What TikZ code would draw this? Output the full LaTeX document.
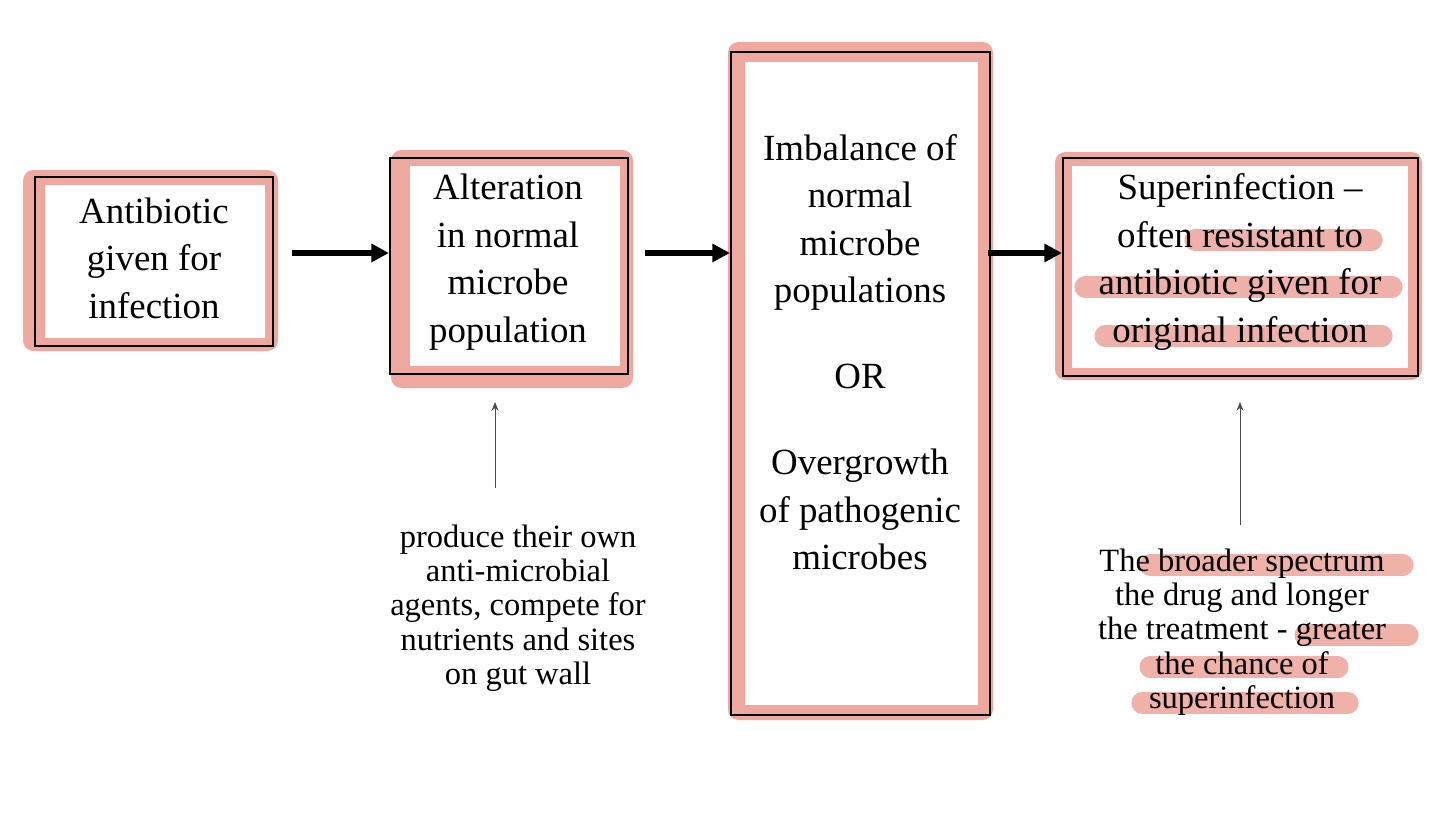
\documentclass[tikz,border=0pt]{standalone}
\usepackage{fontspec}
\setmainfont{Liberation Serif}
\usetikzlibrary{arrows.meta}
\definecolor{hl}{RGB}{238,168,160}
\begin{document}
\begin{tikzpicture}[x=0.02cm,y=-0.02cm,
  box/.style={draw=black,line width=1.2pt,inner sep=0pt},
  txt/.style={align=center,font=\fontsize{21}{27}\selectfont},
  sub/.style={align=center,font=\fontsize{18.5}{19.5}\selectfont},
  big/.style={-{Triangle[length=10pt,width=10pt]},line width=3pt},
  thin/.style={-{Stealth[length=5pt,width=4pt]},line width=0.5pt,draw=black!70},
  hlstroke/.style={hl,line width=12pt,line cap=round,opacity=0.9}]
\useasboundingbox (0,0) rectangle (1440,815);
% pink frames
\foreach \a/\b/\c/\d/\e/\f/\g/\h in {23/170/278/351/45/185/265/338, 391/150/633/388/410/166/620/366, 728/42/993/720/745/62/978/705, 1055/152/1422/380/1072/166/1408/368}{
  \fill[hl,rounded corners=6pt] (\a,\b) rectangle (\c,\d);
  \fill[white] (\e,\f) rectangle (\g,\h);
}
% highlights
\draw[hlstroke] (1195,240) -- (1372,240);
\draw[hlstroke] (1085,287) -- (1392,287);
\draw[hlstroke] (1105,336) -- (1382,336);
\draw[hlstroke] (1150,565) -- (1403,565);
\draw[hlstroke] (1305,635) -- (1408,635);
\draw[hlstroke] (1150,667) -- (1338,667);
\draw[hlstroke] (1142,703) -- (1348,703);
% boxes
\node[box,minimum width=238*0.02cm,minimum height=169*0.02cm] (b1) at (154,261.5) {};
\node[box,minimum width=238*0.02cm,minimum height=216*0.02cm] (b2) at (509,266) {};
\node[box,minimum width=259*0.02cm,minimum height=663*0.02cm] (b3) at (860.5,383.5) {};
\node[box,minimum width=355*0.02cm,minimum height=218*0.02cm] (b4) at (1240.5,267) {};
\node[txt] (t1) at (154,258) {Antibiotic\\given for\\infection};
\node[txt] (t2) at (508,262) {Alteration\\in normal\\microbe\\population};
\node[txt] (t3) at (860,352) {Imbalance of\\normal\\microbe\\populations\\[22pt]OR\\[22pt]Overgrowth\\of pathogenic\\microbes};
\node[txt] (t4) at (1240,262) {Superinfection --\\often resistant to\\antibiotic given for\\original infection};
\node[sub] (s1) at (518,608) {produce their own\\anti-microbial\\agents, compete for\\nutrients and sites\\on gut wall};
\node[sub] (s2) at (1242,632) {The broader spectrum\\the drug and longer\\the treatment - greater\\the chance of\\superinfection};
% arrows
\coordinate (a1) at (292,253); \coordinate (a2) at (645,253); \coordinate (a3) at (988,253);
\draw[big] (a1) -- (b2.west |- a1);
\draw[big] (a2) -- (b3.west |- a2);
\draw[big] (a3) -- (b4.west |- a3);
\coordinate (u1) at (495,488); \coordinate (u2) at (1240,525);
\draw[thin] (u1) -- (495,402);
\draw[thin] (u2) -- (1240,402);
\end{tikzpicture}
\end{document}
